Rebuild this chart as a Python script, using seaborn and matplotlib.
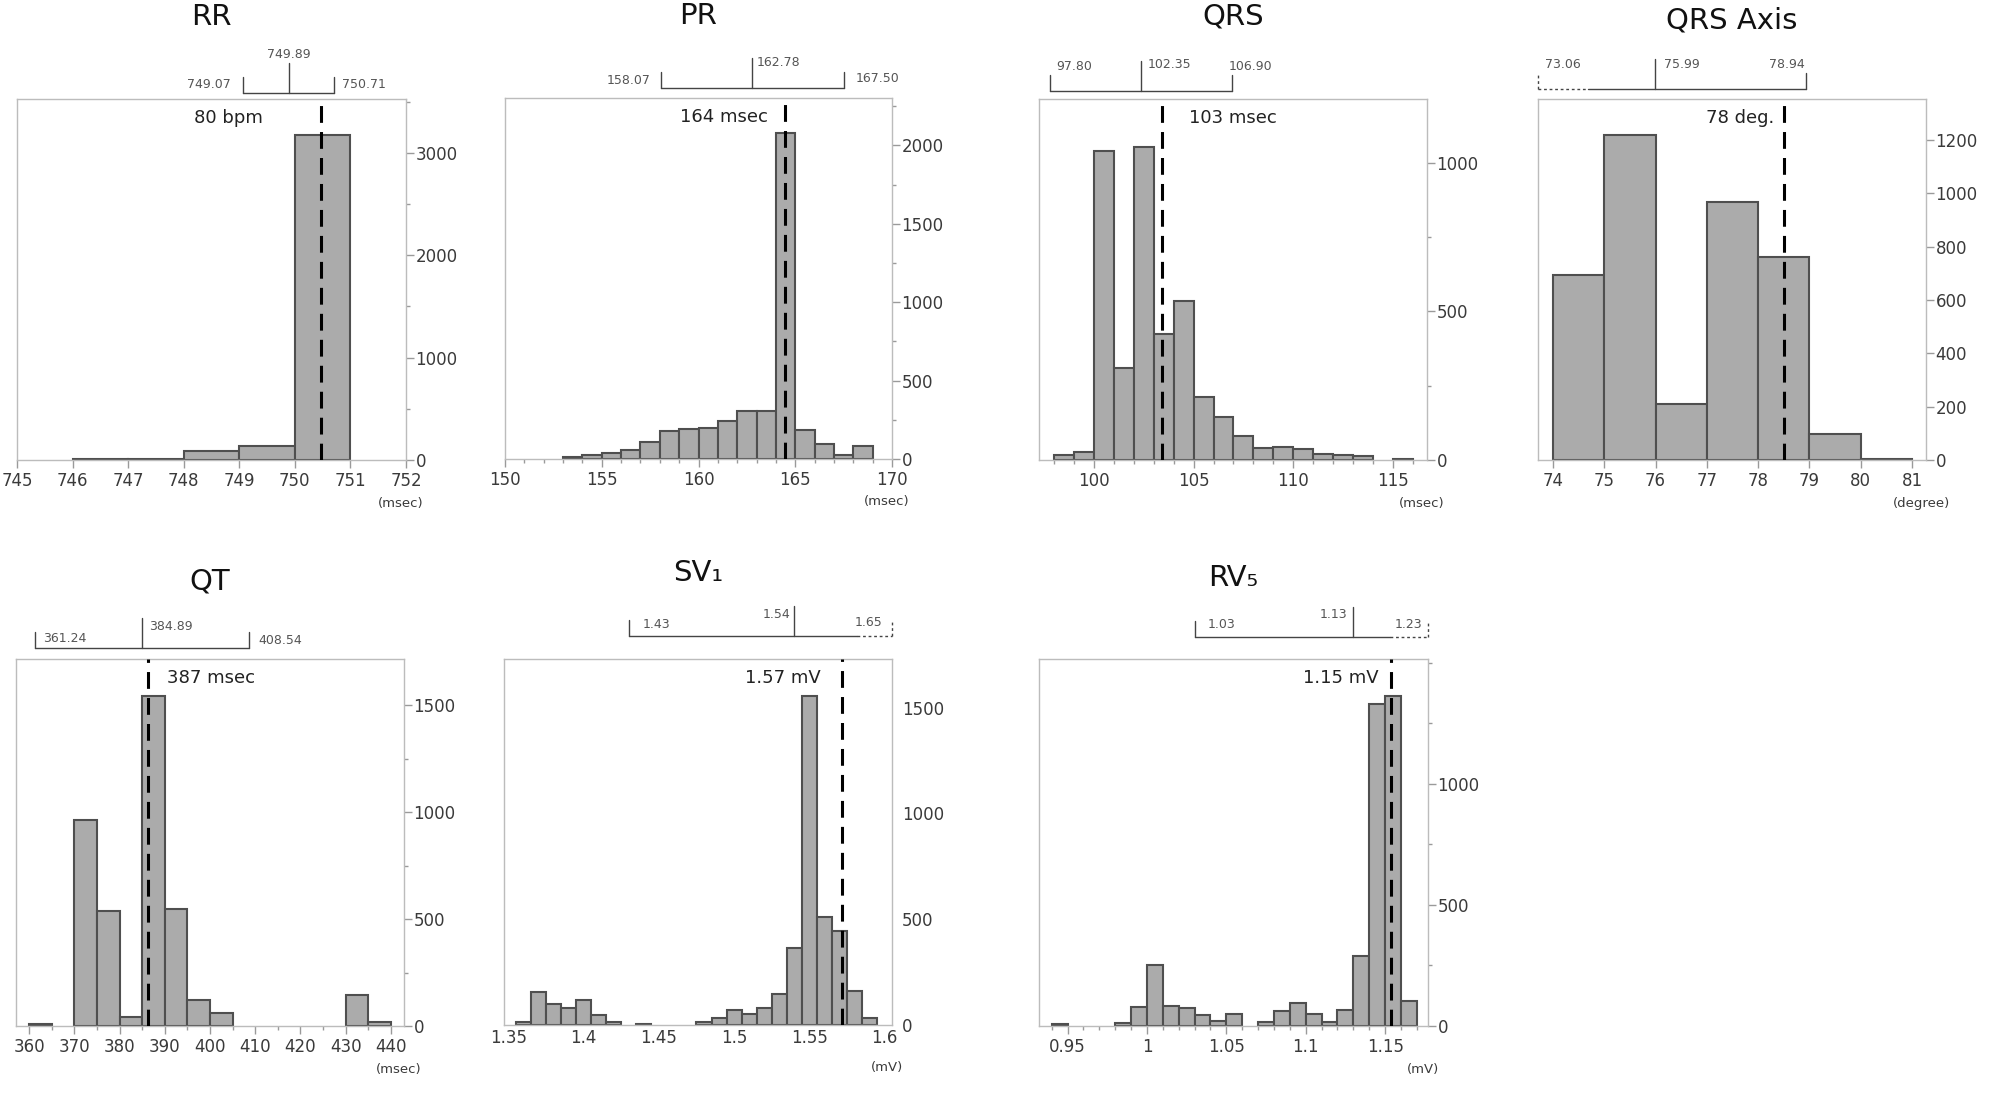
import numpy as np
import pandas as pd
import seaborn as sns
import matplotlib
matplotlib.use("Agg")
import matplotlib.pyplot as plt
from matplotlib.ticker import MultipleLocator, FixedLocator, FuncFormatter, NullLocator

# ---------------- data ----------------
titles = ["RR", "PR", "QRS", "QRS Axis", "QT", "SV₁", "RV₅"]
units = ["(msec)", "(msec)", "(msec)", "(degree)", "(msec)", "(mV)", "(mV)"]

rr_bin_start, rr_bin_width = 746, 1
rr_counts = [8, 10, 91, 140, 3175]
rr_mean = 750.47
rr_text = "80 bpm"
rr_bracket = [749.07, 749.89, 750.71]

pr_bin_start, pr_bin_width = 153, 1
pr_counts = [13, 23, 36, 60, 110, 178, 193, 200, 240, 306, 306, 2079, 183, 98, 28, 81]
pr_mean = 164.49
pr_text = "164 msec"
pr_bracket = [158.07, 162.78, 167.50]

qrs_bin_start, qrs_bin_width = 98, 1
qrs_counts = [17, 28, 1039, 308, 1052, 424, 536, 213, 143, 82, 39, 45, 37, 21, 17, 12, 0, 3]
qrs_mean = 103.44
qrs_text = "103 msec"
qrs_bracket = [97.80, 102.35, 106.90]

axis_bin_start, axis_bin_width = 74, 1
axis_counts = [694, 1220, 210, 966, 762, 97, 4]
axis_mean = 78.5
axis_text = "78 deg."
axis_bracket = [73.06, 75.99, 78.94]

qt_bin_start, qt_bin_width = 360, 5
qt_counts = [8, 0, 963, 540, 41, 1544, 546, 122, 62, 0, 0, 0, 0, 0, 147, 20]
qt_mean = 386.3
qt_text = "387 msec"
qt_bracket = [361.24, 384.89, 408.54]

sv1_bin_start, sv1_bin_width = 1.355, 0.01
sv1_counts = [14, 156, 99, 82, 117, 49, 14, 0, 6, 0, 0, 0, 14, 32, 71, 52, 82, 147,
              362, 1557, 509, 443, 162, 32]
sv1_mean = 1.572
sv1_text = "1.57 mV"
sv1_bracket = [1.43, 1.54, 1.65]

rv5_bin_start, rv5_bin_width = 0.94, 0.01
rv5_counts = [7, 0, 0, 0, 11, 80, 252, 84, 73, 44, 22, 50, 0, 18, 63, 94, 50, 18, 66,
              289, 1331, 1361, 103]
rv5_mean = 1.1536
rv5_text = "1.15 mV"
rv5_bracket = [1.03, 1.13, 1.23]

# ---------------- layout / style ----------------
W, H, DPI = 1995, 1113, 100
sns.set_theme(style="white")
plt.rcParams["font.family"] = ["DejaVu Sans"]

BAR_FILL = "#ababab"
BAR_EDGE = "#4f4f4f"
SPINE = "#bcbcbc"
TICKC = "#9a9a9a"
LABC = "#3a3a3a"

data_sets = [
    (rr_bin_start, rr_bin_width, rr_counts, rr_mean, rr_text, rr_bracket),
    (pr_bin_start, pr_bin_width, pr_counts, pr_mean, pr_text, pr_bracket),
    (qrs_bin_start, qrs_bin_width, qrs_counts, qrs_mean, qrs_text, qrs_bracket),
    (axis_bin_start, axis_bin_width, axis_counts, axis_mean, axis_text, axis_bracket),
    (qt_bin_start, qt_bin_width, qt_counts, qt_mean, qt_text, qt_bracket),
    (sv1_bin_start, sv1_bin_width, sv1_counts, sv1_mean, sv1_text, sv1_bracket),
    (rv5_bin_start, rv5_bin_width, rv5_counts, rv5_mean, rv5_text, rv5_bracket),
]

layouts = [
    dict(rect=(17, 99, 406, 460), xlim=(745, 752), ytop=3525, ytmax=3000, xmaj=1, xmin=None,
         ymaj=1000, ymin=500, vlab=("right", -58), base=6, dotted=0, ticks=True,
         blab=[(-12, 14, "right"), (0, 44, "center"), (8, 14, "left")], tdy=82),
    dict(rect=(505, 98, 892, 459), xlim=(150, 170), ytop=2302, ytmax=2000, xmaj=5, xmin=1,
         ymaj=500, ymin=250, vlab=("right", -18), base=10, dotted=0, ticks=True,
         blab=[(-11, 18, "right"), (4, 36, "left"), (12, 19, "left")], tdy=82),
    dict(rect=(1039, 99, 1427, 460), xlim=(97.25, 116.7), ytop=1214, ytmax=1000, xmaj=5, xmin=1,
         ymaj=500, ymin=250, vlab=("left", 27), base=8, dotted=0, ticks=True,
         blab=[(6, 33, "left"), (7, 34, "left"), (-3, 33, "left")], tdy=82),
    dict(rect=(1538, 99, 1926, 460), xlim=(73.71, 81.27), ytop=1354, ytmax=1200, xmaj=1, xmin=None,
         ymaj=200, ymin=None, vlab=("right", -10), base=10, dotted=50, ticks=True,
         blab=[(7, 34, "left"), (9, 34, "left"), (-2, 34, "right")], tdy=79),
    dict(rect=(16, 659, 404, 1026), xlim=(357.1, 442.9), ytop=1717, ytmax=1500, xmaj=10, xmin=5,
         ymaj=500, ymin=250, vlab=("left", 19), base=11, dotted=0, ticks=True,
         blab=[(8, 21, "left"), (7, 32, "left"), (10, 19, "left")], tdy=77),
    dict(rect=(504, 659, 892, 1025), xlim=(1.347, 1.605), ytop=1730, ytmax=1500, xmaj=0.05, xmin=None,
         ymaj=500, ymin=None, vlab=("right", -22), base=23, dotted=35, ticks=False,
         blab=[(14, 34, "left"), (-4, 45, "right"), (-10, 36, "right")], tdy=86),
    dict(rect=(1039, 659, 1428, 1026), xlim=(0.932, 1.177), ytop=1515, ytmax=1000, xmaj=0.05, xmin=0.01,
         ymaj=500, ymin=250, vlab=("right", -12), base=22, dotted=38, ticks=True,
         blab=[(13, 35, "left"), (-6, 44, "right"), (-6, 34, "right")], tdy=81),
]

fig = plt.figure(figsize=(W / DPI, H / DPI), dpi=DPI)
fmt = FuncFormatter(lambda v, p: f"{round(v, 6):g}")

for title, unit, (start, width, counts, mean, vtext, bracket), L in zip(titles, units, data_sets, layouts):
    x0, y0, x1, y1 = L["rect"]
    ax = fig.add_axes([x0 / W, 1 - y1 / H, (x1 - x0) / W, (y1 - y0) / H])
    ax_w, ax_h = x1 - x0, y1 - y0

    counts = [float(c) for c in counts]
    edges = [float(start + width * i) for i in range(len(counts) + 1)]
    centers = [(edges[i] + edges[i + 1]) / 2 for i in range(len(counts))]
    df = pd.DataFrame({"value": centers, "count": counts})
    sns.histplot(data=df, x="value", weights="count", bins=edges, ax=ax,
                 color=BAR_FILL, edgecolor=BAR_EDGE, linewidth=1.5, alpha=1)
    for p in ax.patches:
        if p.get_height() == 0:
            p.set_visible(False)

    xl, xr = L["xlim"]
    ax.set_xlim(xl, xr)
    ax.set_ylim(0, L["ytop"])
    ax.set_xlabel("")
    ax.set_ylabel("")

    for s in ax.spines.values():
        s.set_color(SPINE)
        s.set_linewidth(1.0)

    ax.yaxis.tick_right()
    ax.xaxis.set_major_locator(MultipleLocator(L["xmaj"]))
    ax.xaxis.set_major_formatter(fmt)
    if L["xmin"]:
        ax.xaxis.set_minor_locator(MultipleLocator(L["xmin"]))
    else:
        ax.xaxis.set_minor_locator(NullLocator())
    ax.yaxis.set_major_locator(FixedLocator(np.arange(0, L["ytmax"] + 1, L["ymaj"])))
    ax.yaxis.set_major_formatter(fmt)
    if L["ymin"]:
        ax.yaxis.set_minor_locator(MultipleLocator(L["ymin"]))
    else:
        ax.yaxis.set_minor_locator(NullLocator())

    mlen = 5.8 if L["ticks"] else 0
    nlen = 3.2 if L["ticks"] else 0
    ax.tick_params(axis="x", which="major", direction="out", length=mlen, width=1,
                   color=TICKC, labelsize=12, labelcolor=LABC, pad=3, bottom=True)
    ax.tick_params(axis="x", which="minor", direction="out", length=nlen, width=1,
                   color=TICKC, bottom=True)
    ax.tick_params(axis="y", which="major", direction="out", length=mlen, width=1,
                   color=TICKC, labelsize=12, labelcolor=LABC, pad=1 if L["ticks"] else 7,
                   right=True, left=False)
    ax.tick_params(axis="y", which="minor", direction="out", length=nlen, width=1,
                   color=TICKC, right=True, left=False)

    # mean line
    ax.axvline(mean, ymin=0, ymax=1, color="black", lw=2.2, ls=(0, (5.5, 3)), zorder=5)

    # value label
    fx = lambda v: (v - xl) / (xr - xl)
    fy = lambda d: 1 + d / ax_h
    ha, dx = L["vlab"]
    ax.text(fx(mean) + dx / ax_w, fy(-19), vtext, transform=ax.transAxes,
            ha=ha, va="center", fontsize=13, color="#222222")

    # title
    ax.text(0.5, fy(L["tdy"]), title, transform=ax.transAxes, ha="center", va="center",
            fontsize=21, color="#111111")
    # unit
    ax.text(1 - 5 / ax_w, -43 / ax_h, unit, transform=ax.transAxes, ha="center",
            va="center", fontsize=9.5, color=LABC)

    # bracket (lower, centre, upper) drawn above the axes
    lo, mid, hi = bracket
    base = L["base"]
    bc = "#444444"
    kw = dict(transform=ax.transAxes, clip_on=False, color=bc, lw=1.0)
    dot = L["dotted"] / ax_w
    flo, fmid, fhi = fx(lo), fx(mid), fx(hi)
    lo_clip, hi_clip = flo < 0, fhi > 1
    xa = 0.0 if lo_clip else flo
    xb = 1.0 if hi_clip else fhi
    sa = xa + dot if lo_clip else xa
    sb = xb - dot if hi_clip else xb
    ax.plot([sa, sb], [fy(base), fy(base)], **kw)
    if lo_clip:
        ax.plot([xa, sa], [fy(base), fy(base)], ls=(0, (2, 2)), **kw)
        ax.plot([xa, xa], [fy(base), fy(base + 16)], ls=(0, (2, 2)), **kw)
    else:
        ax.plot([xa, xa], [fy(base), fy(base + 16)], **kw)
    if hi_clip:
        ax.plot([sb, xb], [fy(base), fy(base)], ls=(0, (2, 2)), **kw)
        ax.plot([xb, xb], [fy(base), fy(base + 16)], ls=(0, (2, 2)), **kw)
    else:
        ax.plot([xb, xb], [fy(base), fy(base + 16)], **kw)
    ax.plot([fmid, fmid], [fy(base), fy(base + 30)], **kw)

    for anchor, val, (bdx, bdy, bha) in zip([xa, fmid, xb], [lo, mid, hi], L["blab"]):
        ax.text(anchor + bdx / ax_w, fy(bdy), f"{val:.2f}", transform=ax.transAxes,
                ha=bha, va="center", fontsize=9, color="#555555")

fig.savefig("out.png", dpi=DPI, facecolor="white")
